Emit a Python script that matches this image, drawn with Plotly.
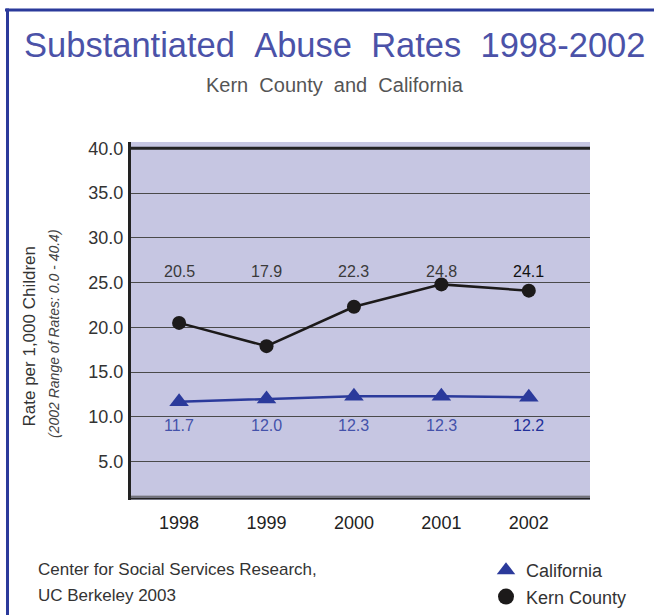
import plotly.graph_objects as go

# ---- data ----
years = [1998, 1999, 2000, 2001, 2002]
kern_county = [20.5, 17.9, 22.3, 24.8, 24.1]
california = [11.7, 12.0, 12.3, 12.3, 12.2]
y_tick_vals = [5, 10, 15, 20, 25, 30, 35, 40]
y_tick_text = ["5.0", "10.0", "15.0", "20.0", "25.0", "30.0", "35.0", "40.0"]
x_tick_text = ["1998", "1999", "2000", "2001", "2002"]

FONT = "Liberation Sans, Arial, sans-serif"
W, H = 654, 615
L, R, T, B = 131, 64, 142, 115
PW, PH = W - L - R, H - T - B

def px_x(p):
    return (p - L) / PW

def px_y(p):
    return (H - B - p) / PH

BLUE = "#2b3a9b"
LAV = "#c6c6e2"
Y0, Y1 = 0.72, 40.70
kern_label_y = 26.2
cal_label_y = 9.0

fig = go.Figure()

fig.add_trace(go.Scatter(
    x=years, y=kern_county, mode="lines+markers", showlegend=False,
    line=dict(color="#1c1a1a", width=2.5),
    marker=dict(symbol="circle", size=14, color="#1c1a1a"),
    cliponaxis=False,
))
fig.add_trace(go.Scatter(
    x=years, y=california, mode="lines+markers", showlegend=False,
    line=dict(color=BLUE, width=2.5),
    marker=dict(symbol="triangle-up", size=17, color=BLUE),
    cliponaxis=False,
))
# legend entries (markers only)
fig.add_trace(go.Scatter(
    x=[None], y=[None], mode="markers", name="California", legendgroup="a",
    marker=dict(symbol="triangle-up", size=16, color=BLUE),
))
fig.add_trace(go.Scatter(
    x=[None], y=[None], mode="markers", name="Kern County", legendgroup="b",
    marker=dict(symbol="circle", size=16, color="#1c1a1a"),
))

annotations = []
for i, (yr, v) in enumerate(zip(years, kern_county)):
    annotations.append(dict(
        x=yr, y=kern_label_y, xref="x", yref="y", text=f"{v:.1f}",
        showarrow=False, font=dict(family=FONT, size=16,
                                   color="#111111" if i == len(years) - 1 else "#3a3a3a"),
        xanchor="center", yanchor="middle"))
for i, (yr, v) in enumerate(zip(years, california)):
    annotations.append(dict(
        x=yr, y=cal_label_y, xref="x", yref="y", text=f"{v:.1f}",
        showarrow=False, font=dict(family=FONT, size=16,
                                   color="#22309a" if i == len(years) - 1 else "#4452aa"),
        xanchor="center", yanchor="middle"))

nb = "\u00a0"
title_txt = (nb * 2).join(["Substantiated", "Abuse", "Rates", "1998-2002"])
sub_txt = (nb + " ").join(["Kern", "County", "and", "California"])
annotations += [
    dict(x=px_x(334.5), y=px_y(44.5), xref="paper", yref="paper", text=title_txt,
         showarrow=False, xanchor="center", yanchor="middle",
         font=dict(family=FONT, size=34.5, color="#4b52a8")),
    dict(x=px_x(335), y=px_y(85.3), xref="paper", yref="paper", text=sub_txt,
         showarrow=False, xanchor="center", yanchor="middle",
         font=dict(family=FONT, size=20, color="#555555")),
    dict(x=px_x(28.5), y=px_y(336), xref="paper", yref="paper",
         text="Rate per 1,000 Children", textangle=-90, showarrow=False,
         xanchor="center", yanchor="middle",
         font=dict(family=FONT, size=17, color="#333333")),
    dict(x=px_x(54), y=px_y(334), xref="paper", yref="paper",
         text="<i>(2002 Range of Rates: 0.0 - 40.4)</i>", textangle=-90, showarrow=False,
         xanchor="center", yanchor="middle",
         font=dict(family=FONT, size=14, color="#444444")),
    dict(x=px_x(36), y=px_y(569.4), xref="paper", yref="paper",
         text="Center for Social Services Research,", showarrow=False,
         xanchor="left", yanchor="middle",
         font=dict(family=FONT, size=17, color="#333333")),
    dict(x=px_x(36), y=px_y(595.5), xref="paper", yref="paper",
         text="UC Berkeley 2003", showarrow=False,
         xanchor="left", yanchor="middle",
         font=dict(family=FONT, size=17, color="#333333")),
]

shapes = [
    # outer blue frame (top and left)
    dict(type="line", xref="paper", yref="paper", x0=px_x(5), x1=px_x(660),
         y0=px_y(10), y1=px_y(10), line=dict(color=BLUE, width=3)),
    dict(type="line", xref="paper", yref="paper", x0=px_x(7.5), x1=px_x(7.5),
         y0=px_y(8.5), y1=px_y(620), line=dict(color=BLUE, width=3)),
    # heavy top line at 40
    dict(type="line", xref="paper", yref="y", x0=0, x1=1, y0=40, y1=40,
         line=dict(color="#222222", width=3)),
    # bottom double line
    dict(type="line", xref="paper", yref="paper", x0=0, x1=1, y0=0.004, y1=0.004,
         line=dict(color="#222222", width=2)),
    dict(type="line", xref="paper", yref="paper", x0=0, x1=1, y0=0.0105, y1=0.0105,
         line=dict(color="#555555", width=1)),
]

fig.update_layout(
    width=W, height=H,
    margin=dict(l=L, r=R, t=T, b=B, pad=0, autoexpand=False),
    paper_bgcolor="white", plot_bgcolor=LAV,
    font=dict(family=FONT, color="#333333"),
    annotations=annotations, shapes=shapes,
    legend=dict(x=px_x(486), y=px_y(552), xanchor="left", yanchor="top",
                font=dict(family=FONT, size=18, color="#333333"),
                bgcolor="rgba(0,0,0,0)", tracegroupgap=0),
    xaxis=dict(range=[1997.45, 2002.70], tickvals=years, ticktext=x_tick_text,
               showgrid=False, zeroline=False, showline=False,
               ticks="outside", ticklen=6, tickcolor="rgba(0,0,0,0)",
               tickfont=dict(family=FONT, size=18, color="#222222")),
    yaxis=dict(range=[Y0, Y1], tickvals=y_tick_vals, ticktext=y_tick_text,
               showgrid=True, gridcolor="#4a4a4a", gridwidth=1.3, zeroline=False,
               showline=True, linecolor="#222222", linewidth=3,
               ticks="outside", ticklen=1, tickcolor="rgba(0,0,0,0)",
               tickfont=dict(family=FONT, size=18, color="#333333")),
)

fig.write_html("out.html")
